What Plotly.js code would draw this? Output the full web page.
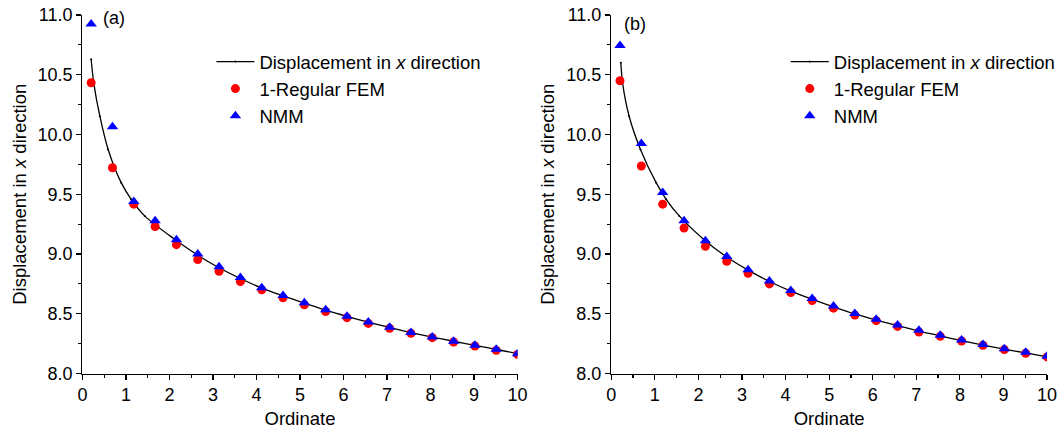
<!DOCTYPE html>
<html>
<head>
<meta charset="utf-8">
<script src="https://cdn.plot.ly/plotly-3.0.1.min.js"></script>
<style>html,body{margin:0;padding:0;background:#fff;}#chart{width:1061px;height:432px;}</style>
</head>
<body>
<div id="chart"></div>
<script>
// Ordinate positions of the numerical results (shared by both panels)
const ordinate = [0.2, 0.69, 1.18, 1.67, 2.16, 2.65, 3.14, 3.63, 4.12, 4.61, 5.1, 5.59, 6.08, 6.57, 7.06, 7.55, 8.04, 8.53, 9.02, 9.51, 10.0];

// Panel (a): analytical curve and numerical results
const exactXA = [0.2, 0.26, 0.4, 0.59, 0.89, 1.12, 1.43, 2.11, 2.65, 3.14, 3.63, 4.12, 4.61, 5.1, 5.59, 6.08, 6.57, 7.06, 7.55, 8.04, 8.53, 9.02, 9.51, 10.0];
const exactA  = [10.63, 10.43, 10.153, 9.875, 9.597, 9.458, 9.319, 9.125, 8.99, 8.885, 8.795, 8.715, 8.65, 8.59, 8.53, 8.478, 8.43, 8.385, 8.343, 8.305, 8.27, 8.236, 8.203, 8.165];
const femA    = [10.433, 9.722, 9.417, 9.23, 9.078, 8.953, 8.856, 8.77, 8.70, 8.633, 8.575, 8.519, 8.467, 8.419, 8.378, 8.336, 8.30, 8.264, 8.23, 8.194, 8.16];
const nmmA    = [10.925, 10.064, 9.44, 9.278, 9.12, 9.0, 8.894, 8.803, 8.717, 8.653, 8.592, 8.533, 8.48, 8.43, 8.386, 8.344, 8.306, 8.27, 8.236, 8.203, 8.165];

// Panel (b)
const exactXB = [0.22, 0.26, 0.41, 0.67, 1.03, 1.26, 1.56, 2.13, 2.65, 3.14, 3.63, 4.12, 4.61, 5.1, 5.59, 6.08, 6.57, 7.06, 7.55, 8.04, 8.53, 9.02, 9.51, 10.0];
const exactB  = [10.60, 10.43, 10.153, 9.875, 9.597, 9.458, 9.319, 9.12, 8.975, 8.865, 8.77, 8.69, 8.622, 8.558, 8.498, 8.447, 8.4, 8.355, 8.315, 8.275, 8.238, 8.204, 8.172, 8.14];
const femB    = [10.45, 9.736, 9.417, 9.217, 9.064, 8.939, 8.839, 8.75, 8.678, 8.611, 8.547, 8.489, 8.442, 8.394, 8.347, 8.311, 8.272, 8.236, 8.2, 8.169, 8.139];
const nmmB    = [10.744, 9.925, 9.514, 9.278, 9.111, 8.98, 8.869, 8.775, 8.694, 8.628, 8.564, 8.503, 8.453, 8.406, 8.361, 8.32, 8.281, 8.242, 8.208, 8.178, 8.144];

const seriesNames = ['Displacement in <i>x</i> direction', '1-Regular FEM', 'NMM'];
const xTickVals = [0,1,2,3,4,5,6,7,8,9,10];
const yTickVals = [8.0, 8.5, 9.0, 9.5, 10.0, 10.5, 11.0];
const yTickText = ['8.0','8.5','9.0','9.5','10.0','10.5','11.0'];
const panelLabels = ['(a)', '(b)'];
const xTitle = 'Ordinate';
const yTitle = 'Displacement in <i>x</i> direction';

const FONT = 'Arial, "Liberation Sans", Helvetica, sans-serif';

function panelTraces(exX, exact, fem, nmm, xa, ya, legendName) {
  return [
    {x: exX, y: exact, xaxis: xa, yaxis: ya, legend: legendName, name: seriesNames[0],
     mode: 'lines+markers', line: {color: '#000', width: 1.3, shape: 'spline', smoothing: 0.9},
     marker: {color: '#000', size: 2}, type: 'scatter'},
    {x: ordinate, y: fem, xaxis: xa, yaxis: ya, legend: legendName, name: seriesNames[1],
     mode: 'markers', marker: {color: '#ff0000', size: 9, symbol: 'circle'}, type: 'scatter'},
    {x: ordinate, y: nmm, xaxis: xa, yaxis: ya, legend: legendName, name: seriesNames[2],
     mode: 'markers', marker: {color: '#0000ff', size: 10, symbol: 'triangle-up'}, type: 'scatter'}
  ];
}

const data = [].concat(
  panelTraces(exactXA, exactA, femA, nmmA, 'x', 'y', 'legend'),
  panelTraces(exactXB, exactB, femB, nmmB, 'x2', 'y2', 'legend2')
);

function xAxis(domain, anchor) {
  return {
    domain: domain, anchor: anchor, range: [0, 10], tickvals: xTickVals,
    showline: true, linecolor: '#000', linewidth: 1.3, mirror: false,
    ticks: 'outside', ticklen: 5, tickwidth: 1.2, tickcolor: '#000',
    minor: {dtick: 0.5, ticks: 'outside', ticklen: 3, tickwidth: 1.2, tickcolor: '#000'},
    showgrid: false, zeroline: false,
    tickfont: {family: FONT, size: 18, color: '#000'},
    title: {text: xTitle, font: {family: FONT, size: 18.5, color: '#000'}, standoff: 7},
    automargin: false
  };
}
function yAxis(domain, anchor) {
  return {
    domain: domain, anchor: anchor, range: [8.0, 11.0], tickvals: yTickVals, ticktext: yTickText,
    showline: true, linecolor: '#000', linewidth: 1.3, mirror: false,
    ticks: 'outside', ticklen: 5, tickwidth: 1.2, tickcolor: '#000',
    minor: {dtick: 0.25, ticks: 'outside', ticklen: 3, tickwidth: 1.2, tickcolor: '#000'},
    showgrid: false, zeroline: false,
    tickfont: {family: FONT, size: 18, color: '#000'},
    title: {text: yTitle, font: {family: FONT, size: 18.5, color: '#000'}, standoff: 6},
    automargin: false
  };
}

const yDom = [1 - 373.5/432, 1 - 15/432];
const legendCommon = {xanchor: 'left', yanchor: 'top', bgcolor: 'rgba(0,0,0,0)',
  font: {family: FONT, size: 18.5, color: '#000'}, tracegroupgap: 0, itemwidth: 38};
const layout = {
  width: 1061, height: 432,
  margin: {l: 0, r: 0, t: 0, b: 0},
  paper_bgcolor: '#fff', plot_bgcolor: '#fff',
  font: {family: FONT, size: 18, color: '#000'},
  showlegend: true,
  xaxis: xAxis([82.7/1061, 519/1061], 'y'),
  yaxis: yAxis(yDom, 'x'),
  xaxis2: xAxis([613/1061, 1050/1061], 'y2'),
  yaxis2: yAxis(yDom, 'x2'),
  legend: Object.assign({x: 212/1061, y: 1 - 43/432}, legendCommon),
  legend2: Object.assign({x: 788/1061, y: 1 - 43/432}, legendCommon),
  annotations: [
    {text: panelLabels[0], xref: 'paper', yref: 'paper', x: 101/1061, y: 1 - 18/432,
     xanchor: 'left', yanchor: 'middle', showarrow: false, font: {family: FONT, size: 18, color: '#000'}},
    {text: panelLabels[1], xref: 'paper', yref: 'paper', x: 624/1061, y: 1 - 24/432,
     xanchor: 'left', yanchor: 'middle', showarrow: false, font: {family: FONT, size: 18, color: '#000'}}
  ]
};

Plotly.newPlot('chart', data, layout, {displayModeBar: false, staticPlot: true});
</script>
</body>
</html>
